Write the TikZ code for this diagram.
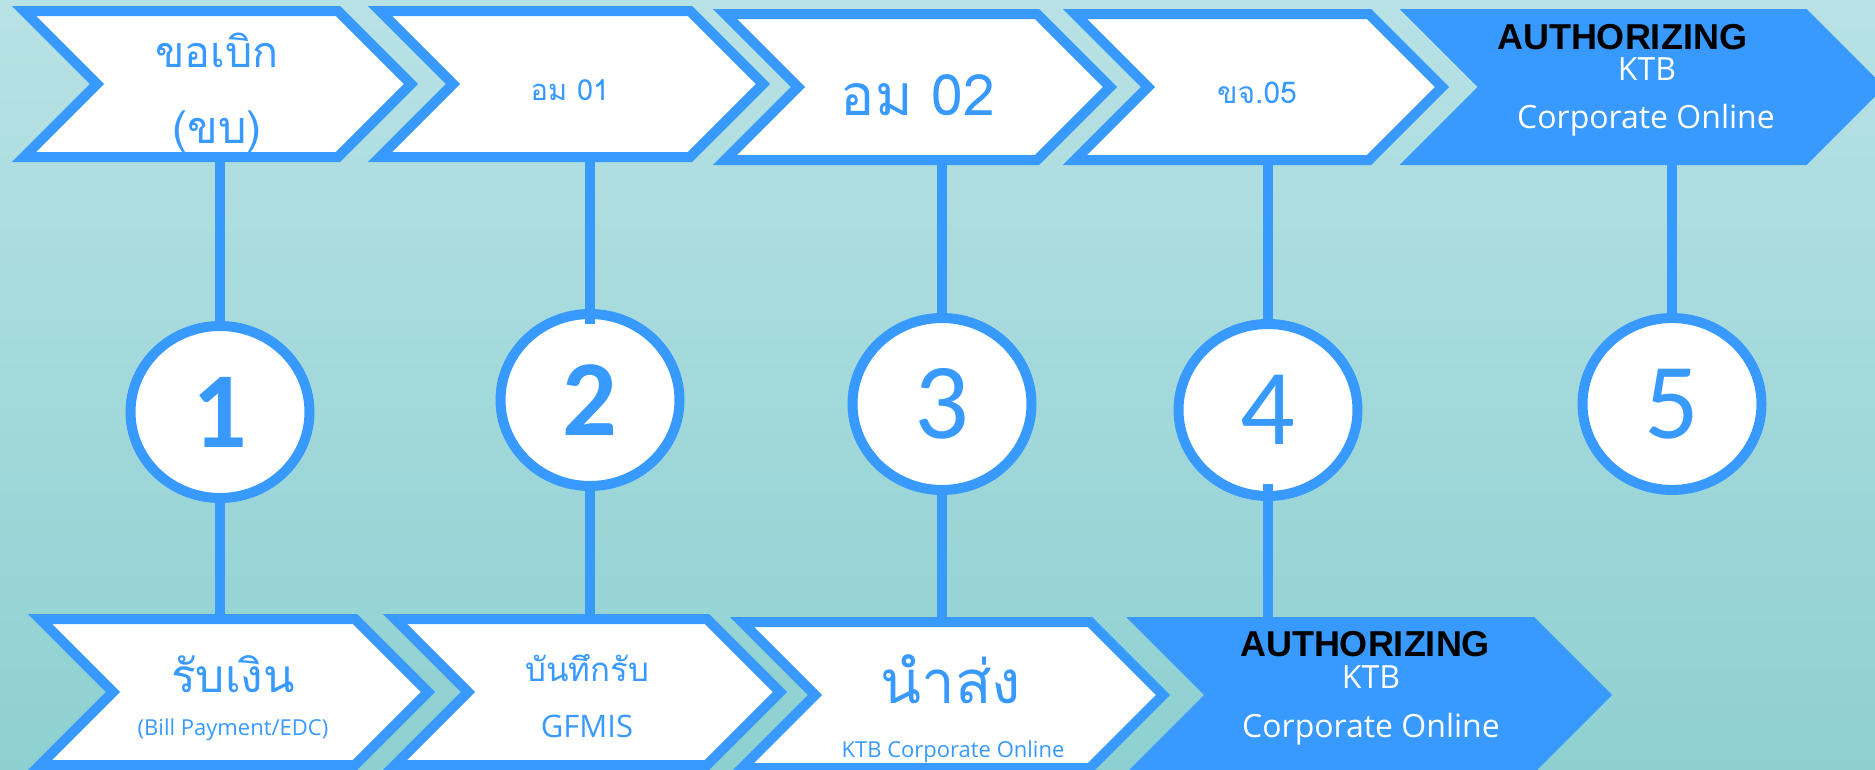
\documentclass[tikz,border=0pt]{standalone}
\usepackage{fontspec}
\setmainfont{Open Sans}
\newfontfamily\thaifont[Script=Thai]{Loma}
\newfontfamily\numfont{Carlito}
\newfontfamily\authfont{Liberation Sans}
\usetikzlibrary{shapes.symbols,
    shapes.geometric}

\definecolor{stepblue}{RGB}{56,154,255}
\definecolor{bgtop}{RGB}{184,226,229}
\definecolor{bgmid}{RGB}{190,229,231}
\definecolor{bgbot}{RGB}{142,208,209}

\begin{document}
\begin{tikzpicture} [x = 1pt, y = -1pt,
    every node/.style = {inner sep = 0pt, outer sep = 0pt},
    chevron/.style = {signal, signal to = east, signal from = west,
        signal pointer angle = 90, minimum height = 146pt,
        draw = stepblue, line width = 10pt, fill = white},
    chevronfull/.style = {signal, signal to = east, signal from = west,
        signal pointer angle = 90, minimum height = 156pt, fill = stepblue},
    ring/.style = {ellipse, minimum width = 179pt, minimum height = 172pt,
        draw = stepblue, line width = 10pt, fill = white, text = stepblue},
    link/.style = {stepblue, line width = 10pt},
    thai/.style = {anchor = base, text = stepblue,
        font = \thaifont\fontsize{#1}{#1}\selectfont},
    eng/.style = {anchor = base, text = stepblue,
        font = \fontsize{#1}{#1}\selectfont},
    auth/.style = {anchor = base, text = black,
        font = \authfont\bfseries\fontsize{36}{36}\selectfont},
    bignum/.style = {font = \numfont\fontsize{108}{108}\selectfont},
    bignumbold/.style = {font = \numfont\bfseries\fontsize{108}{108}\selectfont}]

\fill[top color = bgtop, middle color = bgmid, bottom color = bgbot]
    (0,0) rectangle (1875,769);
\useasboundingbox (0,0) rectangle (1875,769);
\clip (0,0) rectangle (1875,769);

% top row
\node[chevron, minimum width = 387pt] (t1) at (217.5,84) {};
\node[chevron, minimum width = 383pt] (t2) at (571.5,84) {};
\node[chevron, minimum width = 385pt] (t3) at (917.5,87) {};
\node[chevron, minimum width = 367pt] (t4) at (1258.5,87) {};
\node[chevronfull, minimum width = 485pt] (t5) at (1642,87) {};

% bottom row
\node[chevron, minimum width = 388pt] (b1) at (234,692) {};
\node[chevron, minimum width = 385pt] (b2) at (587.5,692) {};
\node[chevron, minimum width = 421pt] (b3) at (952.5,695) {};
\node[chevronfull, minimum width = 486pt] (b4) at (1369,695) {};

% steps
\node[ring, bignumbold] (c1) at (220,412) {1};
\node[ring, bignumbold] (c2) at (590,400) {2};
\node[ring, bignum] (c3) at (942,404) {3};
\node[ring, bignum] (c4) at (1268,410) {4};
\node[ring, bignum] (c5) at (1672,404) {5};

\draw[link] (c1.north |- t1.south) -- (c1.north);
\draw[link] (c2.north |- t2.south) -- ([yshift = -10pt]c2.north);
\draw[link] (c3.north |- t3.south) -- (c3.north);
\draw[link] (c4.north |- t4.south) -- (c4.north);
\draw[link] (c5.north |- t5.south) -- (c5.north);

\draw[link] (c1.south) -- (c1.south |- b1.north);
\draw[link] (c2.south) -- (c2.south |- b2.north);
\draw[link] (c3.south) -- (c3.south |- b3.north);
\draw[link] ([yshift = 12pt]c4.south) -- (c4.south |- b4.north);

% labels
\node[thai = 43] (t1a) at (217,67) {ขอเบิก};
\node[thai = 45] (t1b) at (217,143) {(ขบ)};
\node[thai = 29] (t2a) at (570,100) {อม 01};
\node[thai = 57] (t3a) at (918,115) {อม 02};
\node[thai = 30] (t4a) at (1257,103) {ขจ.05};
\node[auth] (t5a) at (1622,49) {AUTHORIZING};
\node[eng = 32, text = white] (t5b) at (1647,80) {KTB};
\node[eng = 32, text = white] (t5c) at (1646,128) {Corporate Online};

\node[thai = 46] (b1a) at (233,692) {รับเงิน};
\node[eng = 22] (b1b) at (233,735) {(Bill Payment/EDC)};
\node[thai = 33] (b2a) at (587,681) {บันทึกรับ};
\node[eng = 31] (b2b) at (587,737) {GFMIS};
\node[thai = 60] (b3a) at (951,703) {นำส่ง};
\node[eng = 22] (b3b) at (953,757) {KTB Corporate Online};
\node[auth] (b4a) at (1365,656) {AUTHORIZING};
\node[eng = 32, text = white] (b4b) at (1371,688) {KTB};
\node[eng = 32, text = white] (b4c) at (1371,737) {Corporate Online};
\end{tikzpicture}
\end{document}
